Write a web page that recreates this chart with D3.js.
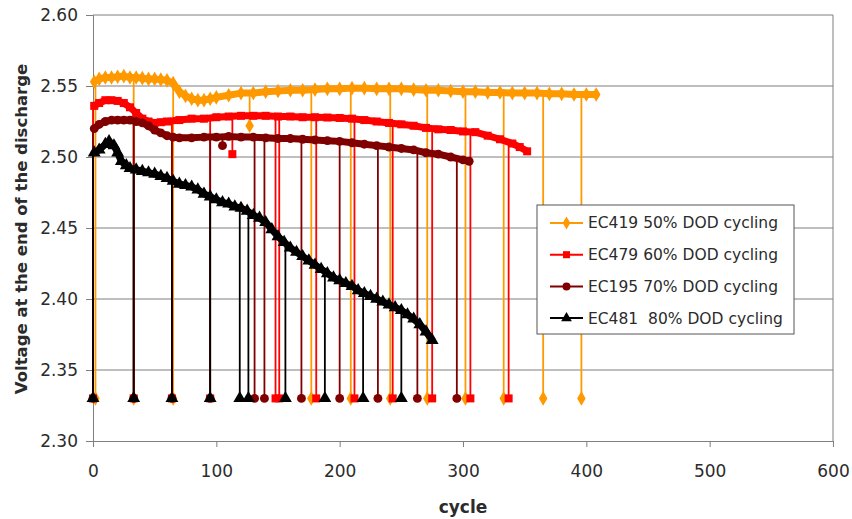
<!DOCTYPE html>
<html>
<head>
<meta charset="utf-8">
<script src="https://cdn.jsdelivr.net/npm/d3@7"></script>
<style>
  body { margin: 0; background: #fff; }
  text { font-family: "DejaVu Sans", sans-serif; fill: #2b2b2b; }
</style>
</head>
<body>
<div id="chart"></div>
<script>
// trend values (cycle, voltage)
const orangeCycles = [1, 5, 10, 15, 20, 25, 30, 35, 40, 45, 50, 55, 60, 65, 70, 75, 80, 85, 90, 95, 100, 110, 120, 130, 140, 150, 160, 170, 180, 190, 200, 210, 220, 230, 240, 250, 260, 270, 280, 290, 300, 310, 320, 330, 340, 350, 360, 370, 380, 390, 400, 408];
const orangeVolts = [2.553, 2.555, 2.556, 2.556, 2.5565, 2.557, 2.556, 2.556, 2.5555, 2.555, 2.555, 2.5545, 2.554, 2.552, 2.546, 2.543, 2.541, 2.540, 2.540, 2.541, 2.542, 2.5435, 2.545, 2.545, 2.546, 2.5465, 2.547, 2.547, 2.5475, 2.548, 2.548, 2.5485, 2.5485, 2.548, 2.548, 2.548, 2.5475, 2.547, 2.547, 2.5465, 2.546, 2.546, 2.5455, 2.5455, 2.545, 2.545, 2.545, 2.5445, 2.5445, 2.544, 2.544, 2.544];
const orangeDipCycles = [2, 33, 65, 127, 177, 209, 241, 271, 302, 333, 365, 396];
const orangeDipVolts = [2.33, 2.33, 2.33, 2.522, 2.33, 2.33, 2.33, 2.33, 2.33, 2.33, 2.33, 2.33];

const redCycles = [1, 5, 10, 15, 20, 25, 30, 35, 40, 45, 50, 55, 60, 70, 80, 90, 100, 110, 120, 130, 140, 150, 160, 170, 180, 190, 200, 210, 220, 230, 240, 250, 260, 270, 280, 290, 300, 310, 320, 330, 340, 346, 352];
const redVolts = [2.536, 2.538, 2.540, 2.540, 2.5395, 2.538, 2.535, 2.531, 2.527, 2.525, 2.524, 2.5245, 2.525, 2.526, 2.527, 2.527, 2.528, 2.5285, 2.529, 2.529, 2.529, 2.5285, 2.5285, 2.528, 2.528, 2.5278, 2.5275, 2.527, 2.526, 2.525, 2.524, 2.523, 2.522, 2.5205, 2.5195, 2.519, 2.518, 2.5175, 2.515, 2.5125, 2.5095, 2.507, 2.504];
const redDipCycles = [0, 33, 64, 95, 113, 148, 151, 181, 212, 243, 275, 306, 337];
const redDipVolts = [2.33, 2.33, 2.33, 2.33, 2.502, 2.33, 2.33, 2.33, 2.33, 2.33, 2.33, 2.33, 2.33];

const darkCycles = [1, 5, 10, 15, 20, 25, 30, 35, 40, 45, 50, 55, 60, 65, 70, 80, 90, 100, 110, 120, 130, 140, 150, 160, 170, 180, 190, 200, 210, 220, 230, 240, 250, 260, 270, 280, 290, 300, 305];
const darkVolts = [2.520, 2.523, 2.525, 2.526, 2.526, 2.526, 2.526, 2.525, 2.524, 2.522, 2.519, 2.517, 2.515, 2.514, 2.5135, 2.5135, 2.514, 2.514, 2.5145, 2.514, 2.514, 2.5135, 2.513, 2.513, 2.5125, 2.512, 2.5115, 2.511, 2.510, 2.509, 2.508, 2.507, 2.506, 2.505, 2.503, 2.502, 2.500, 2.498, 2.497];
const darkDipCycles = [0, 33, 64, 95, 105, 131, 139, 169, 200, 231, 263, 295];
const darkDipVolts = [2.33, 2.33, 2.33, 2.33, 2.508, 2.33, 2.33, 2.33, 2.33, 2.33, 2.33, 2.33];

const blackCycles = [1, 5, 10, 13, 17, 20, 23, 27, 30, 35, 40, 45, 50, 55, 60, 65, 70, 75, 80, 85, 90, 95, 100, 105, 110, 115, 120, 125, 130, 135, 140, 145, 150, 155, 160, 165, 170, 175, 180, 185, 190, 195, 200, 205, 210, 215, 220, 225, 230, 235, 240, 245, 250, 255, 260, 265, 270, 275];
const blackVolts = [2.503, 2.505, 2.509, 2.511, 2.508, 2.503, 2.497, 2.494, 2.492, 2.491, 2.490, 2.489, 2.488, 2.4865, 2.485, 2.483, 2.481, 2.480, 2.479, 2.477, 2.474, 2.472, 2.470, 2.468, 2.467, 2.465, 2.464, 2.462, 2.459, 2.457, 2.454, 2.449, 2.444, 2.440, 2.436, 2.433, 2.430, 2.427, 2.424, 2.421, 2.418, 2.415, 2.413, 2.411, 2.409, 2.406, 2.404, 2.402, 2.400, 2.398, 2.396, 2.394, 2.392, 2.389, 2.386, 2.382, 2.377, 2.371];
const blackDipCycles = [0, 33, 64, 95, 119, 126, 156, 188, 219, 250];
const blackDipVolts = [2.33, 2.33, 2.33, 2.33, 2.33, 2.33, 2.33, 2.33, 2.33, 2.33];

const seriesNames = ['EC419 50% DOD cycling', 'EC479 60% DOD cycling', 'EC195 70% DOD cycling', 'EC481  80% DOD cycling'];
const seriesColors = ['#ff9900', '#ff0000', '#800000', '#000000'];
const seriesShapes = [d3.symbolDiamond, d3.symbolSquare, d3.symbolCircle, d3.symbolTriangle];
const markerSizes = [62, 64, 62, 72];

const xTicks = [0, 100, 200, 300, 400, 500, 600];
const yTicks = [2.30, 2.35, 2.40, 2.45, 2.50, 2.55, 2.60];

const series = [
    { cycles: orangeCycles, volts: orangeVolts, dipC: orangeDipCycles, dipV: orangeDipVolts },
    { cycles: redCycles, volts: redVolts, dipC: redDipCycles, dipV: redDipVolts },
    { cycles: darkCycles, volts: darkVolts, dipC: darkDipCycles, dipV: darkDipVolts },
    { cycles: blackCycles, volts: blackVolts, dipC: blackDipCycles, dipV: blackDipVolts }
];

const W = 852, H = 519;
const svg = d3.select('#chart').append('svg').attr('width', W).attr('height', H);

const x = d3.scaleLinear().domain([0, 600]).range([93, 833]);
const y = d3.scaleLinear().domain([2.30, 2.60]).range([441, 15]);

// gridlines
svg.append('g').selectAll('line').data(yTicks.slice(1)).join('line')
    .attr('x1', x(0)).attr('x2', x(600))
    .attr('y1', d => y(d)).attr('y2', d => y(d))
    .attr('stroke', '#7f7f7f').attr('stroke-width', 1);
svg.append('line')
    .attr('x1', x(600)).attr('x2', x(600)).attr('y1', y(2.60)).attr('y2', y(2.30))
    .attr('stroke', '#7f7f7f');

// axes
const yAxis = svg.append('g').attr('transform', `translate(${x(0)},0)`)
    .call(d3.axisLeft(y).tickValues(yTicks).tickFormat(d3.format('.2f')).tickSize(7).tickPadding(8));
const xAxis = svg.append('g').attr('transform', `translate(0,${y(2.30)})`)
    .call(d3.axisBottom(x).tickValues(xTicks).tickSize(6).tickPadding(18));
[xAxis, yAxis].forEach(a => {
    a.select('.domain').attr('stroke', '#7f7f7f');
    a.selectAll('.tick line').attr('stroke', '#7f7f7f');
    a.selectAll('text').style('font-size', '17px').attr('fill', '#2b2b2b');
});

function trendAt(s, c) {
    const i = d3.bisectLeft(s.cycles, c);
    if (i <= 0) return s.volts[0];
    if (i >= s.cycles.length) return s.volts[s.volts.length - 1];
    const c0 = s.cycles[i - 1], c1 = s.cycles[i];
    return s.volts[i - 1] + (s.volts[i] - s.volts[i - 1]) * (c - c0) / (c1 - c0);
}

const plot = svg.append('g');
const line = d3.line().x(d => x(d[0])).y(d => y(d[1]));

series.forEach((s, k) => {
    const col = seriesColors[k];
    const g = plot.append('g');
    const pts = s.cycles.map((c, i) => [c, s.volts[i]]);
    const dips = s.dipC.map((c, i) => [c, s.dipV[i]]);

    // dips to the capacity check value
    g.selectAll('line.dip').data(dips).join('line')
        .attr('x1', d => x(d[0])).attr('x2', d => x(d[0]))
        .attr('y1', d => y(d[1])).attr('y2', d => y(trendAt(s, d[0])))
        .attr('stroke', col).attr('stroke-width', 1.8);

    g.append('path').datum(pts)
        .attr('d', line).attr('fill', 'none')
        .attr('stroke', col).attr('stroke-width', 7)
        .attr('stroke-linejoin', 'round').attr('stroke-linecap', 'round');

    const sym = d3.symbol().type(seriesShapes[k]).size(markerSizes[k]);
    g.selectAll('path.m').data(pts.concat(dips)).join('path')
        .attr('class', 'm')
        .attr('transform', d => `translate(${x(d[0])},${y(d[1])})`)
        .attr('d', sym).attr('fill', col);
});

// legend
const lg = svg.append('g').attr('transform', 'translate(537,205)');
lg.append('rect').attr('width', 257).attr('height', 129)
    .attr('fill', '#fff').attr('stroke', '#555').attr('stroke-width', 1);
seriesNames.forEach((name, k) => {
    const yy = 18 + k * 31.7;
    lg.append('line').attr('x1', 13).attr('x2', 46).attr('y1', yy).attr('y2', yy)
        .attr('stroke', seriesColors[k]).attr('stroke-width', 2);
    lg.append('path').attr('transform', `translate(29.5,${yy})`)
        .attr('d', d3.symbol().type(seriesShapes[k]).size(50)).attr('fill', seriesColors[k]);
    lg.append('text').attr('x', 51).attr('y', yy).attr('dy', '0.35em')
        .style('font-size', '15.5px').style('white-space', 'pre').text(name);
});

// axis titles
svg.append('text').attr('x', 463).attr('y', 507).attr('text-anchor', 'middle').attr('dy', '0.35em')
    .style('font-size', '17px').style('font-weight', 'bold').text('cycle');
svg.append('text').attr('transform', 'translate(21,229) rotate(-90)')
    .attr('text-anchor', 'middle').attr('dy', '0.35em')
    .style('font-size', '16.5px').style('font-weight', 'bold')
    .text('Voltage at the end of the discharge');
</script>
</body>
</html>
